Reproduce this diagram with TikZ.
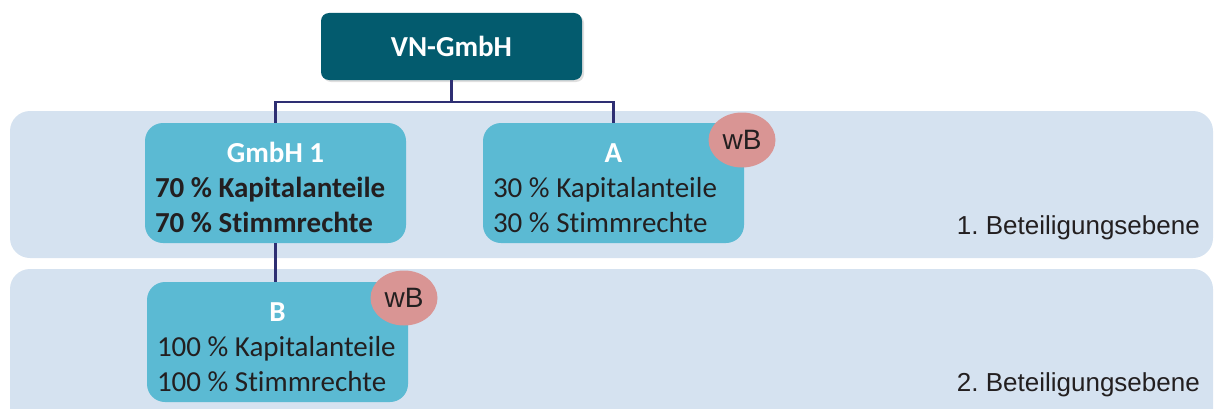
\documentclass[tikz,border=0pt]{standalone}
\usepackage{fontspec}
\setmainfont[Ligatures=NoCommon]{Carlito}
\newfontfamily\arialfont{Liberation Sans}
\usepackage{tikz}
\usetikzlibrary{shadows,shapes.geometric}
\frenchspacing

\definecolor{bandblue}{HTML}{D5E2F0}
\definecolor{unitcyan}{HTML}{5BBAD3}
\definecolor{topteal}{HTML}{035B6E}
\definecolor{wbrose}{HTML}{D99594}
\definecolor{linknavy}{HTML}{2E2F73}
\definecolor{textdark}{HTML}{231F20}

\newcommand{\unittitle}[1]{\rule{0pt}{30pt}\makebox[241pt][c]{\bfseries\color{white}#1}}

\begin{document}
\begin{tikzpicture}[x=1pt,y=1pt,
    band/.style={fill=bandblue, rounded corners=20pt},
    topbox/.style={shape=rectangle, rounded corners=8pt, fill=topteal, text=white,
        font=\fontsize{29}{35}\selectfont\bfseries,
        minimum width=261pt, minimum height=67pt,
        drop shadow={shadow xshift=2pt, shadow yshift=-2pt, opacity=.25}},
    unitbox/.style={shape=rectangle, rounded corners=18pt, fill=unitcyan, text=textdark,
        font=\fontsize{29}{35}\selectfont, align=left,
        inner xsep=10pt, minimum width=261pt, minimum height=120pt},
    wbmark/.style={shape=ellipse, fill=wbrose, text=textdark, inner sep=0pt,
        minimum width=67pt, minimum height=55pt, font=\arialfont\fontsize{28}{28}\selectfont},
    level/.style={text=textdark, font=\arialfont\fontsize{26}{26}\selectfont, inner sep=0pt},
    link/.style={draw=linknavy, line width=2.5pt}]
    \clip (0,0) rectangle (1214,408);

    % Beteiligungsebenen
    \fill[band] (10,150) rectangle (1213,297);
    \fill[band] (10,-40) rectangle (1213,139);
    \node[level, anchor=base east] (ebene1) at (1200,174) {1. Beteiligungsebene};
    \node[level, anchor=base east] (ebene2) at (1200,17) {2. Beteiligungsebene};

    \node[topbox] (vn) at (451.5,361.5) {VN-GmbH};
    \node[unitbox] (gmbh1) at (275.5,225) {\unittitle{GmbH 1}\\ \textbf{70 \% Kapitalanteile}\\ \textbf{70 \% Stimmrechte}};
    \node[unitbox] (a) at (613.5,225) {\unittitle{A}\\ 30 \% Kapitalanteile\\ 30 \% Stimmrechte};
    \node[unitbox] (b) at (277.5,66) {\unittitle{B}\\ 100 \% Kapitalanteile\\ 100 \% Stimmrechte};

    \node[wbmark] (wba) at (742,268) {wB};
    \node[wbmark] (wbb) at (404,110) {wB};

    \coordinate (split) at (451.5,306);
    \draw[link] (vn.south) -- (split);
    \draw[link] (split) -| (gmbh1.north);
    \draw[link] (split) -| (a.north);
    \draw[link] (gmbh1.south) -- (gmbh1.south |- b.north);
\end{tikzpicture}
\end{document}
